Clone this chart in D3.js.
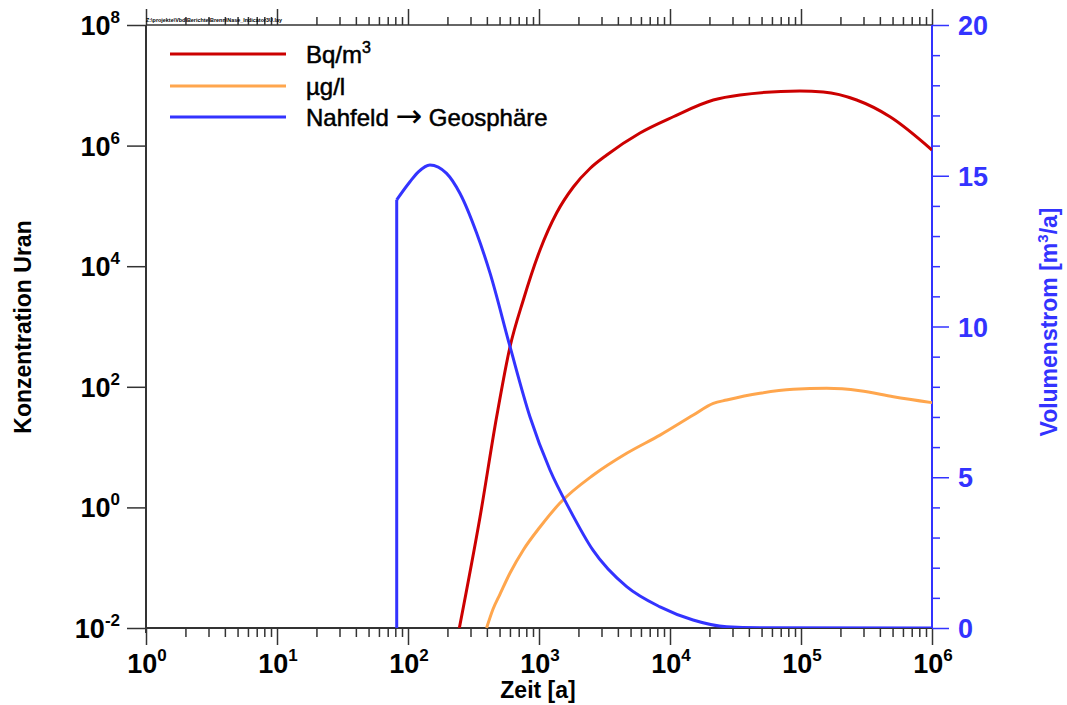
<!DOCTYPE html>
<html>
<head>
<meta charset="utf-8">
<script src="https://cdn.jsdelivr.net/npm/d3@7"></script>
<style>
  html, body { margin: 0; padding: 0; background: #fff; }
  svg { display: block; font-family: "Liberation Sans", Arial, sans-serif; }
</style>
</head>
<body>
<svg id="chart" width="1067" height="705"></svg>
<script>
// ---------------- data ----------------
const xTickValues = [1, 10, 100, 1000, 1e4, 1e5, 1e6];
const xTickExps = ["0", "1", "2", "3", "4", "5", "6"];
const yLeftTickValues = [1e-2, 1, 1e2, 1e4, 1e6, 1e8];
const yLeftTickExps = ["-2", "0", "2", "4", "6", "8"];
const yRightTickValues = [0, 5, 10, 15, 20];

const seriesNames = ["Bq/m3", "\u00b5g/l", "Nahfeld \u2192 Geosph\u00e4re"];

// Bq/m3 (left axis)
const timeBq = [246.6, 355, 475, 601, 759, 1018, 1365, 1828, 2450, 3290, 5900, 10600, 21400, 34200, 97900, 148000, 266000, 478000, 1e6];
const valBq  = [0.01, 0.70, 31.9, 462, 2754, 18600, 77000, 206000, 417000, 698000, 1.62e6, 3.01e6, 5.70e6, 6.9e6, 8.04e6, 7.74e6, 5.70e6, 3.01e6, 8.45e5];

// ug/l (left axis)
const timeUg = [398, 446, 504, 601, 759, 1018, 1446, 2600, 4670, 8390, 15060, 21400, 27100, 48600, 87300, 157000, 282000, 507000, 1e6];
const valUg  = [0.01, 0.0207, 0.0366, 0.0817, 0.197, 0.473, 1.18, 3.44, 7.89, 15.8, 34.0, 53.2, 60.4, 78.0, 90.8, 94.4, 86.1, 68.5, 54.6];

// Nahfeld -> Geosphaere (right axis, m3/a)
const timeFlow = [82, 82, 103.5, 120, 147, 197, 249, 334, 423, 601, 854, 1213, 1725, 2582, 4670, 8390, 15000, 27100, 48600, 1e6];
const valFlow  = [0, 14.2, 14.8, 15.13, 15.36, 15.08, 14.42, 13.1, 11.77, 9.33, 7.0, 5.24, 3.91, 2.58, 1.37, 0.7, 0.265, 0.04, 0.01, 0];

const fileLabel = "Z:\\projekte\\Vbd\\Berichte\\Brenn\\Nase_Indicator3U.lay";

// ---------------- layout ----------------
const L = 146, R = 932, T = 25, B = 628;
const colRed = "#cc0000", colOrange = "#ffa64d", colBlue = "#3333ff", colAxis = "#333333";

const svg = d3.select("#chart");

const x = d3.scaleLog().domain([1, 1e6]).range([L, R]);
const yL = d3.scaleLog().domain([1e-2, 1e8]).range([B, T]);
const yR = d3.scaleLinear().domain([0, 20]).range([B, T]);

// clip
svg.append("defs").append("clipPath").attr("id", "plotclip")
  .append("rect").attr("x", L).attr("y", T - 2).attr("width", R - L).attr("height", B - T + 2);

// minor ticks for log x
const xMinor = [];
for (let e = 0; e < 6; e++) for (let m = 2; m <= 9; m++) xMinor.push(m * Math.pow(10, e));

// ---- bottom axis ----
const gBottom = svg.append("g").attr("transform", `translate(0,${B})`);
gBottom.call(d3.axisBottom(x).tickValues(xTickValues).tickSize(17).tickFormat(""));
gBottom.append("g").call(d3.axisBottom(x).tickValues(xMinor).tickSize(9).tickFormat(""));
gBottom.selectAll(".domain").remove();
gBottom.selectAll("line").attr("stroke", colAxis).attr("stroke-width", 1.5);

// ---- top axis ----
const gTop = svg.append("g").attr("transform", `translate(0,${T})`);
gTop.call(d3.axisTop(x).tickValues(xTickValues).tickSize(16).tickFormat(""));
gTop.append("g").call(d3.axisTop(x).tickValues(xMinor).tickSize(8).tickFormat(""));
gTop.selectAll(".domain").remove();
gTop.selectAll("line").attr("stroke", colAxis).attr("stroke-width", 1.5);

// horizontal frame lines
svg.append("line").attr("x1", L).attr("x2", R).attr("y1", B).attr("y2", B).attr("stroke", colAxis).attr("stroke-width", 2);
svg.append("line").attr("x1", L).attr("x2", R).attr("y1", T).attr("y2", T).attr("stroke", colAxis).attr("stroke-width", 1.5);

// ---- left axis ----
const gLeft = svg.append("g").attr("transform", `translate(${L},0)`);
gLeft.call(d3.axisLeft(yL).tickValues(yLeftTickValues).tickSize(19).tickFormat(""));
gLeft.selectAll(".domain").remove();
gLeft.selectAll("line").attr("stroke", colAxis).attr("stroke-width", 1.5);
svg.append("line").attr("x1", L).attr("x2", L).attr("y1", T).attr("y2", B + 5).attr("stroke", colAxis).attr("stroke-width", 2);

// left tick labels
yLeftTickValues.forEach((v, i) => {
  const t = svg.append("text").attr("x", 120).attr("y", yL(v) + 10)
    .attr("text-anchor", "end").attr("font-size", 27).attr("font-weight", "bold").attr("fill", "#000");
  t.append("tspan").text("10");
  t.append("tspan").attr("dy", -12).attr("font-size", 17).text(yLeftTickExps[i]);
});

// bottom tick labels
xTickValues.forEach((v, i) => {
  const t = svg.append("text").attr("x", x(v) + 1).attr("y", 673)
    .attr("text-anchor", "middle").attr("font-size", 27).attr("font-weight", "bold").attr("fill", "#000");
  t.append("tspan").text("10");
  t.append("tspan").attr("dy", -12).attr("font-size", 17).text(xTickExps[i]);
});

// ---- right axis ----
const gRight = svg.append("g").attr("transform", `translate(${R},0)`);
gRight.call(d3.axisRight(yR).tickValues(yRightTickValues).tickSize(17).tickFormat(""));
gRight.append("g").call(d3.axisRight(yR).tickValues(d3.range(0, 21, 1).filter(d => d % 5 !== 0)).tickSize(8).tickFormat(""));
gRight.selectAll(".domain").remove();
gRight.selectAll("line").attr("stroke", colBlue).attr("stroke-width", 1.5);
svg.append("line").attr("x1", R).attr("x2", R).attr("y1", T).attr("y2", B).attr("stroke", colBlue).attr("stroke-width", 2);

yRightTickValues.forEach(v => {
  svg.append("text").attr("x", 958).attr("y", yR(v) + 10)
    .attr("font-size", 27).attr("font-weight", "bold").attr("fill", colBlue).text(v);
});

// ---- axis titles ----
svg.append("text").attr("x", 538).attr("y", 698).attr("text-anchor", "middle")
  .attr("font-size", 23).attr("font-weight", "bold").attr("fill", "#000").text("Zeit [a]");

svg.append("text").attr("transform", "translate(31,327) rotate(-90)").attr("text-anchor", "middle")
  .attr("font-size", 23).attr("font-weight", "bold").attr("fill", "#000").text("Konzentration Uran");

const rt = svg.append("text").attr("transform", "translate(1057,322) rotate(-90)").attr("text-anchor", "middle")
  .attr("font-size", 23).attr("font-weight", "bold").attr("fill", colBlue);
rt.append("tspan").text("Volumenstrom [m");
rt.append("tspan").attr("dy", -9).attr("font-size", 15).text("3");
rt.append("tspan").attr("dy", 9).text("/a]");

// file label
svg.append("text").attr("x", 146).attr("y", 22).attr("font-size", 6).attr("font-weight", "bold")
  .attr("textLength", 136).attr("lengthAdjust", "spacingAndGlyphs").attr("fill", "#000").text(fileLabel);

// ---- curves ----
const gCurves = svg.append("g").attr("clip-path", "url(#plotclip)");
const curve = d3.curveMonotoneX;

const lineL = d3.line().x(d => x(d[0])).y(d => yL(d[1])).curve(curve);
const lineR = d3.line().x(d => x(d[0])).y(d => yR(d[1])).curve(d3.curveLinear);
const lineRsmooth = d3.line().x(d => x(d[0])).y(d => yR(d[1])).curve(curve);

gCurves.append("path").datum(d3.zip(timeUg, valUg)).attr("d", lineL)
  .attr("fill", "none").attr("stroke", colOrange).attr("stroke-width", 3);
gCurves.append("path").datum(d3.zip(timeBq, valBq)).attr("d", lineL)
  .attr("fill", "none").attr("stroke", colRed).attr("stroke-width", 3);
const flow = d3.zip(timeFlow, valFlow);
gCurves.append("path").datum(flow.slice(0, 2)).attr("d", lineR)
  .attr("fill", "none").attr("stroke", colBlue).attr("stroke-width", 3);
gCurves.append("path").datum(flow.slice(1)).attr("d", lineRsmooth)
  .attr("fill", "none").attr("stroke", colBlue).attr("stroke-width", 3).attr("stroke-linejoin", "round");

// ---- legend ----
const legColors = [colRed, colOrange, colBlue];
const legY = [54, 86, 117];
legColors.forEach((c, i) => {
  svg.append("line").attr("x1", 170).attr("x2", 286).attr("y1", legY[i]).attr("y2", legY[i])
    .attr("stroke", c).attr("stroke-width", 3);
});
const legText = (i) => svg.append("text").attr("x", 306).attr("y", legY[i] + 9)
  .attr("font-size", 24).attr("fill", "#000").attr("stroke", "#000").attr("stroke-width", 0.5);
const lt0 = legText(0);
lt0.append("tspan").text("Bq/m");
lt0.append("tspan").attr("dy", -10).attr("font-size", 16).text("3");
legText(1).text(seriesNames[1]);
const lt2 = legText(2);
lt2.append("tspan").text("Nahfeld ");
lt2.append("tspan").attr("font-family", "DejaVu Sans").attr("font-size", 32).attr("stroke-width", 0).attr("dy", 1).text("\u2192");
lt2.append("tspan").attr("dy", -1).text(" Geosph\u00e4re");
</script>
</body>
</html>
